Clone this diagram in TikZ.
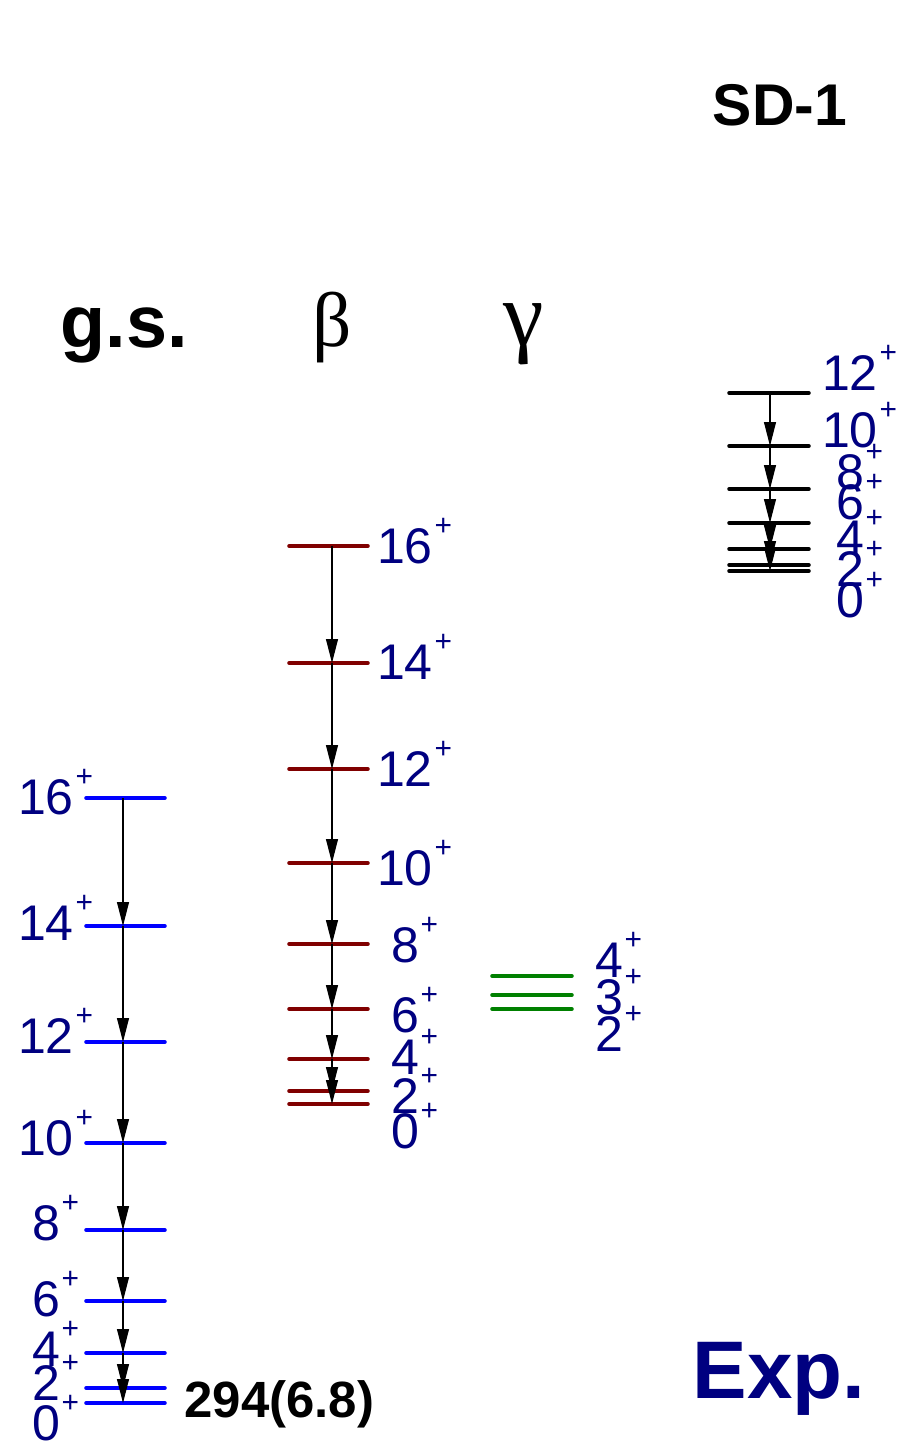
\documentclass[tikz,border=0pt]{standalone}
\usepackage{fontspec}
\setmainfont{Liberation Sans}
\newfontfamily\greekfont{Liberation Serif}
\usetikzlibrary{arrows.meta}
\definecolor{navyLab}{RGB}{0,0,128}
\definecolor{gsBlue}{RGB}{0,0,255}
\definecolor{betaRed}{RGB}{128,0,0}
\definecolor{gamGreen}{RGB}{0,128,0}
\newcommand{\spinp}[1]{#1\rlap{\kern1pt\raisebox{0.56em}[0pt][0pt]{\fontsize{17}{17}\selectfont +}}}

\begin{document}
\begin{tikzpicture}[x=0.02cm, y=-0.02cm,
    every node/.style={font=\fontsize{28.5}{30}\selectfont, text=navyLab, inner sep=0pt},
    level/.style={line width=2pt, line cap=round},
    trans/.style={line width=0.6pt, -{Triangle[length=0.48cm,width=0.24cm]}},
    title/.style={font=\fontsize{42}{44}\selectfont\bfseries, text=black}]
    \useasboundingbox (0,0) rectangle (905,1445);

    % band heads
    \node[title, anchor=base] (gsHead) at (124,347) {g.s.};
    \node[title, font=\fontsize{44}{46}\selectfont\greekfont] (betaHead) at (332,328) {β};
    \node[title, font=\fontsize{52}{54}\selectfont\greekfont] (gamHead) at (524,334) {γ};
    \node[title, font=\fontsize{33.5}{35}\selectfont\bfseries, anchor=base] (sdHead) at (780,125) {SD-1};
    \node[title, font=\fontsize{46.5}{48}\selectfont\bfseries, text=navyLab, anchor=base] (expHead) at (779,1398) {Exp.};
    \node[title, font=\fontsize{29}{30}\selectfont\bfseries, anchor=base west] (bee) at (184,1417) {294(6.8)};

    % ground band
    \foreach \J/\Y/\L in {16/798/797, 14/926/923, 12/1042/1036, 10/1143/1138, 8/1230/1223,
                          6/1301/1299, 4/1353/1349, 2/1388/1383, 0/1403/1423} {
        \draw[level, gsBlue] (86,\Y) -- (165,\Y);
        \coordinate (gs\J) at (123,\Y);
        \node (gsLab\J) at (46,\L) {\spinp{\J}};
    }
    % beta band
    \foreach \J/\Y/\L in {16/546/546, 14/663/662, 12/769/769, 10/863/868, 8/944/945,
                          6/1009/1015, 4/1059/1057, 2/1091/1096, 0/1104/1131} {
        \draw[level, betaRed] (289,\Y) -- (368,\Y);
        \coordinate (beta\J) at (332,\Y);
        \node (betaLab\J) at (405,\L) {\spinp{\J}};
    }
    % gamma band
    \foreach \J/\Y/\L in {4/976/960, 3/995/997, 2/1009/1034} {
        \draw[level, gamGreen] (492,\Y) -- (572,\Y);
        \coordinate (gam\J) at (532,\Y);
        \node (gamLab\J) at (609,\L) {\spinp{\J}};
    }
    % superdeformed band
    \foreach \J/\Y/\L in {12/393/373, 10/446/430, 8/489/472, 6/523/502,
                          4/549/538, 2/565/569, 0/571/600} {
        \draw[level, black] (729,\Y) -- (809,\Y);
        \coordinate (sd\J) at (770,\Y);
        \node (sdLab\J) at (850,\L) {\spinp{\J}};
    }

    % transitions
    \foreach \a/\b in {16/14, 14/12, 12/10, 10/8, 8/6, 6/4, 4/2, 2/0} {
        \draw[trans] (gs\a) -- (gs\b);
        \draw[trans] (beta\a) -- (beta\b);
    }
    \foreach \a/\b in {12/10, 10/8, 8/6, 6/4, 4/2, 2/0}
        \draw[trans] (sd\a) -- (sd\b);
\end{tikzpicture}
\end{document}
